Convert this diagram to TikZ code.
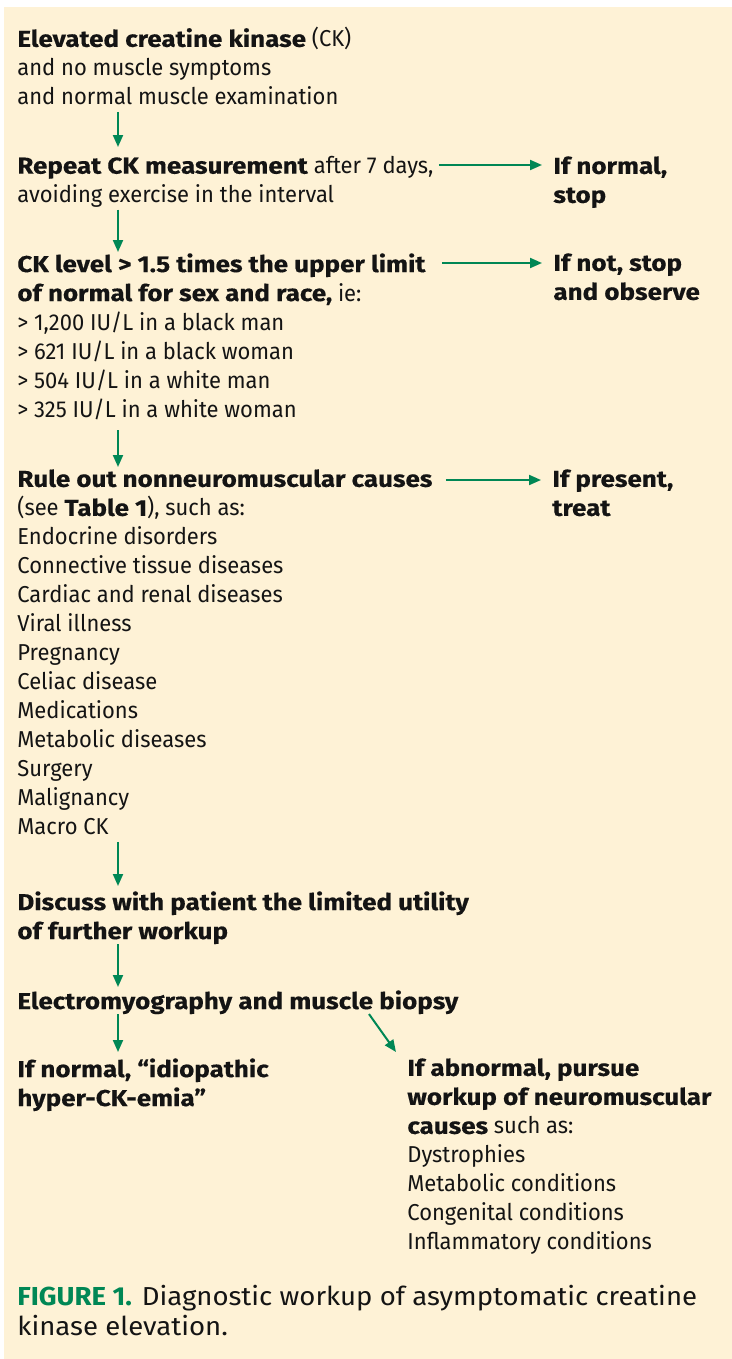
\documentclass[tikz,border=0pt]{standalone}
\usepackage{fontspec}
\setmainfont{Fira Sans}[UprightFeatures={FakeStretch=0.955},BoldFeatures={FakeStretch=1.13,FakeBold=0.4}]
\newfontfamily\capfont{Fira Sans}[FakeStretch=1.06]
\definecolor{panelcream}{RGB}{254,242,214}
\definecolor{flowgreen}{RGB}{0,135,85}
\definecolor{inktext}{RGB}{20,20,20}
\usepackage{tikz}
\usetikzlibrary{arrows.meta}

\begin{document}
\begin{tikzpicture}[x=0.5pt,y=-0.5pt,
    txt/.style={anchor=north west,inner sep=0pt,align=left,text=inktext,
                font=\fontsize{11.5}{14.5}\selectfont},
    btxt/.style={txt,font=\bfseries\fontsize{11.5}{14.5}\selectfont},
    flow/.style={draw=flowgreen,line width=1pt,-{Stealth[length=6pt,width=5pt,inset=0pt]}}]
  % panel
  \useasboundingbox (0,0) rectangle (732,1359);
  \fill[panelcream] (4,7) rectangle (732,1359);

  % left column
  \node[txt] (elev) at (17,27)
    {\textbf{Elevated creatine kinase} (CK)\\and no muscle symptoms\\and normal muscle examination};
  \node[txt] (rep) at (17,156)
    {\textbf{Repeat CK measurement} after 7 days,\\avoiding exercise in the interval};
  \node[txt] (cklev) at (17,253)
    {\textbf{CK level > 1.5 times the upper limit}\\\textbf{of normal for sex and race,} ie:\\
     > 1,200 IU/L in a black man\\> 621 IU/L in a black woman\\
     > 504 IU/L in a white man\\> 325 IU/L in a white woman};
  \node[txt] (rule) at (17,469)
    {\textbf{Rule out nonneuromuscular causes}\\(see \textbf{Table 1}), such as:\\
     Endocrine disorders\\Connective tissue diseases\\Cardiac and renal diseases\\
     Viral illness\\Pregnancy\\Celiac disease\\Medications\\Metabolic diseases\\
     Surgery\\Malignancy\\Macro CK};
  \node[btxt] (disc) at (17,891)
    {Discuss with patient the limited utility\\of further workup};
  \node[btxt] (emg) at (17,990) {Electromyography and muscle biopsy};
  \node[btxt] (idio) at (17,1058)
    {If normal, “idiopathic\\hyper-CK-emia”};
  \node[txt] (abn) at (407,1058)
    {\textbf{If abnormal, pursue}\\\textbf{workup of neuromuscular}\\\textbf{causes} such as:\\
     Dystrophies\\Metabolic conditions\\Congenital conditions\\Inflammatory conditions};

  % right column
  \node[btxt] (ifnorm) at (553,156) {If normal,\\stop};
  \node[btxt] (ifnot) at (553,253) {If not, stop\\and observe};
  \node[btxt] (ifpres) at (552,469) {If present,\\treat};

  % caption
  \node[txt,font=\capfont\fontsize{13}{15}\selectfont] (cap) at (17,1285)
    {{\color{flowgreen}\bfseries FIGURE 1.} Diagnostic workup of asymptomatic creatine\\kinase elevation.};

  % arrows down
  \draw[flow] ([shift={(50.5pt,-3.5pt)}]elev.base west) -- ([shift={(50.5pt,4.5pt)}]rep.north west);
  \draw[flow] ([shift={(50.5pt,-3.5pt)}]rep.base west) -- ([shift={(50.5pt,0.5pt)}]cklev.north west);
  \draw[flow] ([shift={(50.5pt,-6.5pt)}]cklev.base west) -- ([shift={(50.5pt,1pt)}]rule.north west);
  \draw[flow] ([shift={(50.5pt,-3.5pt)}]rule.base west) -- ([shift={(50.5pt,2.5pt)}]disc.north west);
  \draw[flow] ([shift={(50.5pt,-2.5pt)}]disc.base west) -- ([shift={(50.5pt,1.5pt)}]emg.north west);
  \draw[flow] ([shift={(50.5pt,-2.5pt)}]emg.base west) -- ([shift={(50.5pt,3pt)}]idio.north west);
  \draw[flow] ([shift={(176pt,-2.5pt)}]emg.base west) -- ([shift={(-5.5pt,3pt)}]abn.north west);

  % arrows right
  \draw[flow] ([shift={(2.5pt,-4.5pt)}]rep.north east) -- ([shift={(-5.5pt,-4.5pt)}]ifnorm.north west);
  \draw[flow] ([shift={(8pt,-5pt)}]cklev.north east) -- ([shift={(-5.5pt,-5pt)}]ifnot.north west);
  \draw[flow] ([shift={(6.5pt,-5.5pt)}]rule.north east) -- ([shift={(-5.5pt,-5.5pt)}]ifpres.north west);
\end{tikzpicture}
\end{document}
